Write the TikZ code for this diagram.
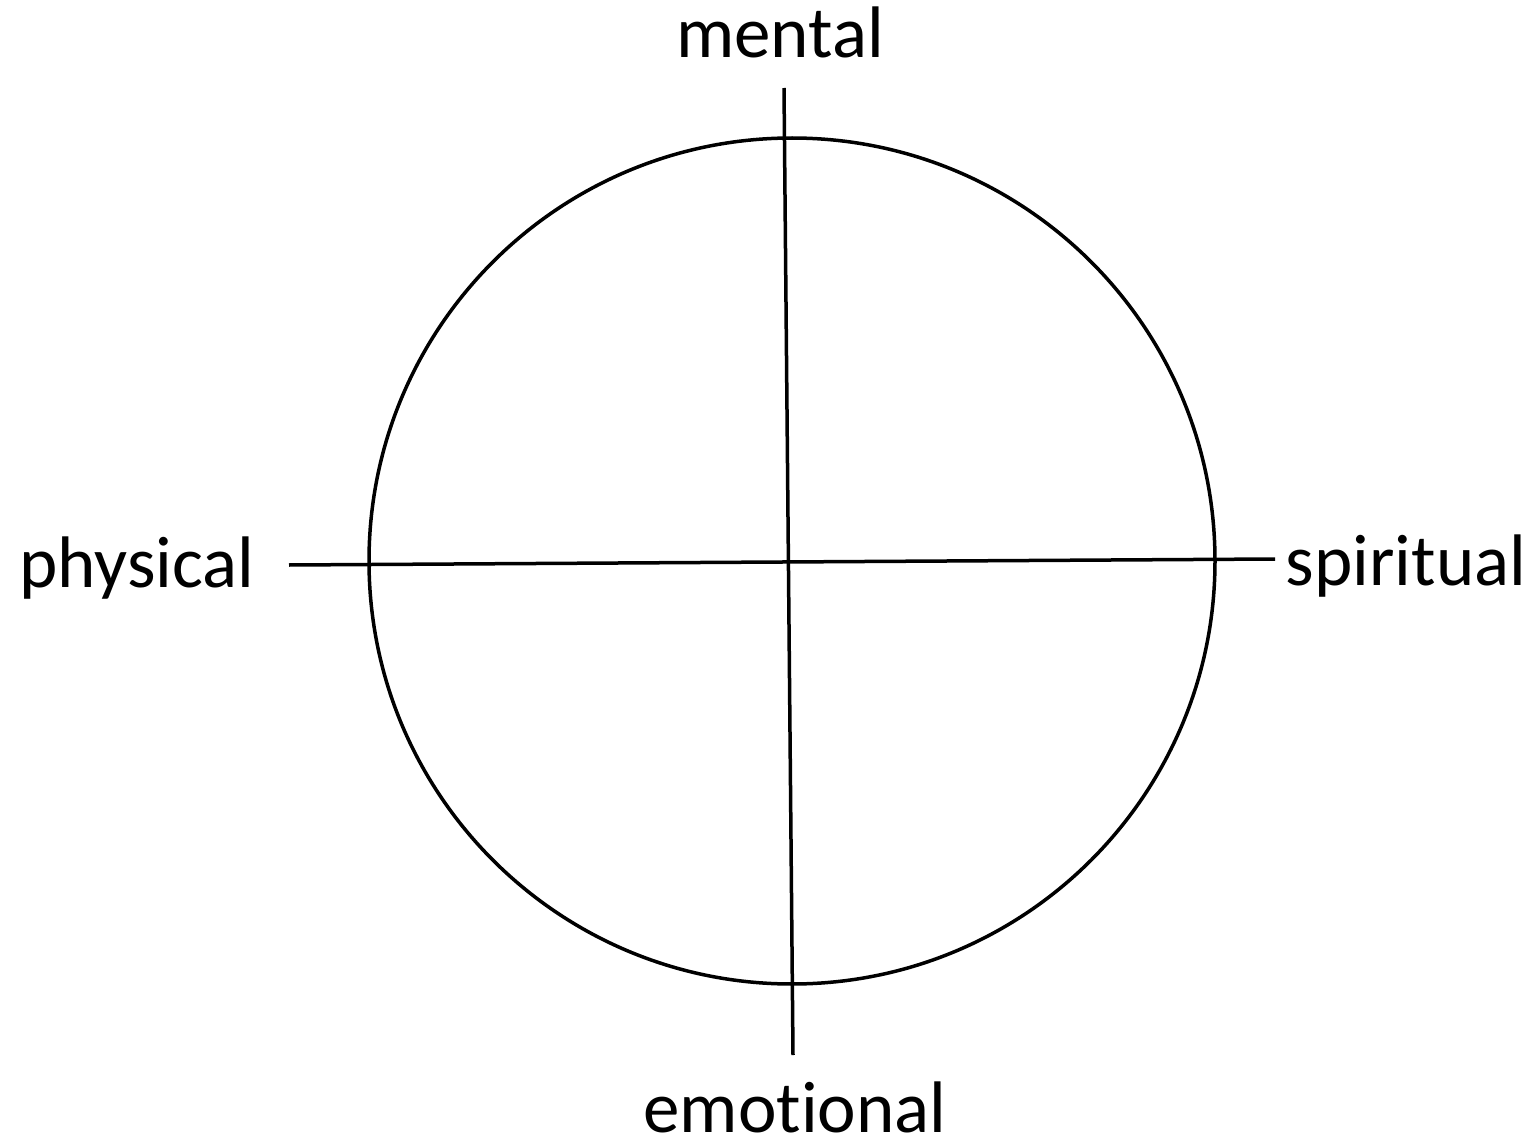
\documentclass[tikz,border=0pt]{standalone}
\usepackage{fontspec}
\setmainfont[Ligatures=NoCommon]{Carlito}
\begin{document}
\begin{tikzpicture}[x=1pt,y=-1pt,
  lbl/.style={font=\fontsize{73}{80}\selectfont, anchor=base, inner sep=0pt},
  ln/.style={line width=3.5pt}]
\useasboundingbox (0,0) rectangle (1540,1142);
\node[circle, draw, ln, minimum size=846pt, inner sep=0pt] (c) at (792,561) {};
\coordinate (vt) at (784,88);
\coordinate (vb) at (793,1055);
\coordinate (hl) at (289,565);
\coordinate (hr) at (1275,559);
\draw[ln] (vt) -- (vb);
\draw[ln] (hl) -- (hr);
\node[lbl] (mental) at (780,58) {mental};
\node[lbl] (emotional) at (795,1132) {emotional};
\node[lbl] (physical) at (137,587) {physical};
\node[lbl] (spiritual) at (1406,585) {spiritual};
\end{tikzpicture}
\end{document}
